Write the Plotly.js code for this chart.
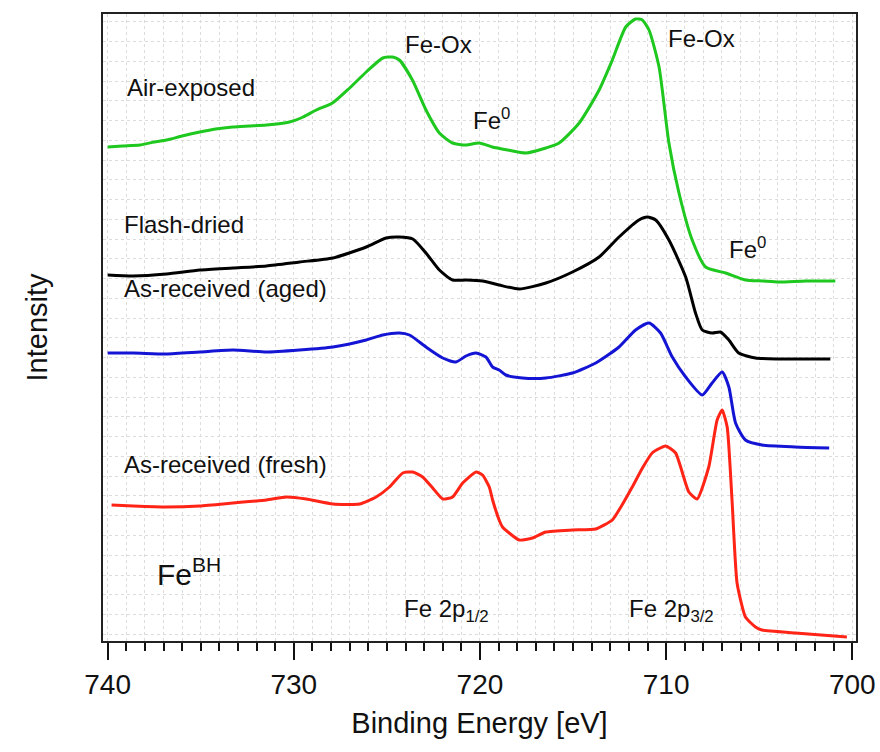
<!DOCTYPE html>
<html>
<head>
<meta charset="utf-8">
<script src="https://cdn.plot.ly/plotly-3.0.1.min.js"></script>
<style>html,body{margin:0;padding:0;background:#fff;}#chart{width:880px;height:752px;}</style>
</head>
<body>
<div id="chart"></div>
<script>
// Binding energies (eV) and intensities (arbitrary units, vertically offset)
const airE = [740.0, 739.2, 738.27, 737.5, 736.84, 736.0, 735.05, 734.2, 733.28, 732.4, 731.47, 730.23, 729.5, 728.79, 727.92, 727.0, 726.11, 725.22, 724.69, 724.33, 723.63, 722.90, 722.18, 721.47, 720.75, 720.04, 719.34, 718.5, 717.53, 716.46, 715.75, 714.67, 713.60, 712.89, 712.17, 711.64, 711.28, 710.92, 710.38, 709.85, 709.31, 708.60, 707.88, 706.81, 705.74, 704.8, 703.95, 702.5, 700.91];
const airI = [494, 495, 496, 499, 501, 505, 509, 512, 514, 515, 516, 519, 524, 531, 538, 553, 569, 583, 584, 581, 561, 531, 508, 498, 496, 498, 494, 491, 488, 493, 498, 518, 551, 581, 614, 622, 621, 611, 574, 498, 448, 401, 374, 368, 361, 360, 359, 360, 360];

const flashE = [740.0, 738.63, 736.84, 735.05, 733.27, 731.47, 729.69, 727.90, 726.11, 725.04, 724.33, 723.61, 722.90, 722.18, 721.47, 720.75, 719.86, 718.97, 717.89, 716.46, 715.03, 713.60, 712.53, 711.46, 711.01, 710.56, 709.85, 708.95, 708.42, 708.06, 707.53, 707.08, 706.63, 706.10, 705.20, 704.0, 703.06, 701.18];
const flashI = [366, 365, 367, 371, 373, 375, 379, 383, 394, 403, 404, 402, 388, 371, 361, 361, 360, 356, 352, 358, 369, 384, 404, 421, 424, 421, 401, 364, 328, 311, 308, 309, 301, 288, 283, 282, 282, 282];

const agedE = [740.0, 738.63, 736.84, 735.05, 733.27, 731.47, 729.69, 727.90, 726.11, 725.22, 724.33, 723.79, 722.90, 722.0, 721.29, 720.75, 720.21, 719.68, 719.32, 718.97, 718.61, 717.72, 716.46, 715.03, 713.78, 712.53, 711.64, 710.92, 710.30, 709.67, 708.95, 708.06, 707.53, 706.99, 706.63, 706.27, 705.74, 704.85, 703.06, 701.24];
const agedI = [288, 288, 287, 289, 291, 289, 291, 294, 301, 306, 308, 306, 294, 283, 279, 285, 288, 284, 274, 271, 266, 263, 263, 268, 278, 294, 311, 318, 308, 284, 264, 246, 258, 269, 254, 218, 201, 196, 194, 193];

const freshE = [739.79, 738.63, 736.84, 735.05, 733.27, 731.47, 730.40, 729.33, 727.90, 726.47, 725.58, 724.86, 724.15, 723.61, 723.08, 722.54, 722.0, 721.47, 720.93, 720.21, 719.86, 719.50, 719.32, 718.97, 718.79, 717.89, 717.18, 716.46, 715.03, 713.78, 712.89, 712.4, 711.82, 711.3, 710.75, 710.03, 709.49, 708.78, 708.33, 707.71, 707.26, 706.99, 706.72, 706.46, 706.19, 705.74, 705.2, 704.85, 703.06, 700.29];
const freshI = [136, 135, 134, 135, 138, 141, 144, 142, 137, 137, 144, 154, 168, 169, 164, 153, 142, 144, 158, 169, 166, 154, 141, 121, 114, 101, 103, 109, 111, 112, 121, 135, 154, 172, 188, 195, 188, 149, 142, 174, 221, 231, 214, 141, 58, 24, 14, 11, 8, 4];

const seriesNames = ["Air-exposed", "Flash-dried", "As-received (aged)", "As-received (fresh)"];
const xTickVals = [740, 730, 720, 710, 700];
const xTickText = ["740", "730", "720", "710", "700"];

const FONT = "Liberation Sans, Arial, Helvetica, sans-serif";
const traces = [
  {x: airE, y: airI, name: seriesNames[0], line: {color: "#1ec81e", width: 3, shape: "spline", smoothing: 0.6}},
  {x: flashE, y: flashI, name: seriesNames[1], line: {color: "#000000", width: 3, shape: "spline", smoothing: 0.6}},
  {x: agedE, y: agedI, name: seriesNames[2], line: {color: "#1414d4", width: 3, shape: "spline", smoothing: 0.6}},
  {x: freshE, y: freshI, name: seriesNames[3], line: {color: "#ff2416", width: 3, shape: "spline", smoothing: 0.5}}
].map(t => Object.assign({type: "scatter", mode: "lines", hoverinfo: "skip"}, t));

function ann(text, x, y, size, anchor) {
  return {text: text, x: x, y: y, xref: "x", yref: "y", showarrow: false,
          xanchor: anchor || "left", yanchor: "middle",
          font: {family: FONT, size: size, color: "#111"}};
}

const annotations = [
  ann(seriesNames[0], 739.07, 554, 24),
  ann(seriesNames[1], 739.23, 417, 24),
  ann(seriesNames[2], 739.23, 353, 24),
  ann(seriesNames[3], 739.23, 177, 24),
  ann("Fe-Ox", 724.11, 597, 24),
  ann("Fe-Ox", 710.01, 603, 24),
  ann("Fe<sup>0</sup>", 720.46, 522, 24),
  ann("Fe<sup>0</sup>", 706.74, 393, 24),
  ann("Fe 2p<sub>1/2</sub>", 724.17, 31, 24),
  ann("Fe 2p<sub>3/2</sub>", 712.1, 31, 24),
  ann("Fe<sup>BH</sup>", 737.46, 69, 30)
];

const layout = {
  width: 880, height: 752,
  margin: {l: 103, r: 24, t: 14, b: 111},
  paper_bgcolor: "#fff", plot_bgcolor: "#fff",
  showlegend: false,
  font: {family: FONT, color: "#111"},
  xaxis: {
    range: [740.25, 699.8], autorange: false,
    tickmode: "array", tickvals: xTickVals, ticktext: xTickText,
    ticks: "outside", ticklen: 17, tickwidth: 2, tickcolor: "#111",
    tickfont: {family: FONT, size: 28, color: "#111"},
    showline: true, linecolor: "#222", linewidth: 2, mirror: true,
    showgrid: true, gridcolor: "#dcdcdc", gridwidth: 1, griddash: "dot",
    zeroline: false,
    minor: {dtick: 1, ticks: "outside", ticklen: 8, tickwidth: 2, tickcolor: "#111",
            showgrid: true, gridcolor: "#dcdcdc", gridwidth: 1, griddash: "dot"},
    title: {text: "Binding Energy [eV]", font: {family: FONT, size: 29, color: "#111"}, standoff: 14}
  },
  yaxis: {
    range: [0, 627], autorange: false,
    tick0: 6.7, dtick: 19.76,
    showticklabels: false, ticks: "",
    showline: true, linecolor: "#222", linewidth: 2, mirror: true,
    showgrid: true, gridcolor: "#dcdcdc", gridwidth: 1, griddash: "dot",
    zeroline: false,
    title: {text: "Intensity", font: {family: FONT, size: 29, color: "#111"}, standoff: 45}
  },
  annotations: annotations
};

Plotly.newPlot("chart", traces, layout, {displayModeBar: false, staticPlot: true});
</script>
</body>
</html>
